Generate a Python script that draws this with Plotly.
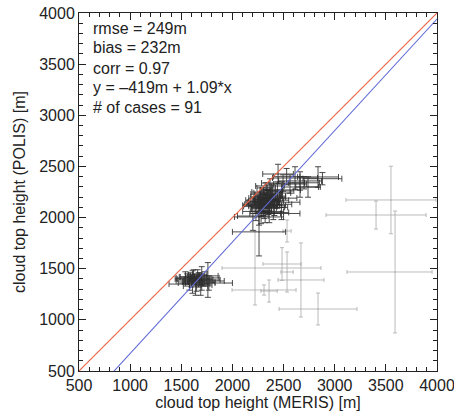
import plotly.graph_objects as go

# ---- data ----
# dark (used) cases: x = MERIS, y = POLIS, with errors
dark_x = [1560, 1600, 1620, 1650, 1680, 1700, 1720, 1760, 1640, 1580, 1690, 1730, 1660, 1610, 1770, 1540, 1700, 1630,
          1590, 1670,
          2300, 2320, 2340, 2280, 2360, 2310, 2350, 2290, 2330, 2370, 2260, 2400, 2420, 2380, 2310, 2350, 2270, 2340,
          2300, 2390, 2250, 2440, 2360, 2280, 2320, 2410, 2460, 2230, 2380, 2330, 2440, 2290, 2360, 2340, 2400,
          2320, 2270, 2350, 2300, 2370,
          2260, 2260, 2200, 2480, 2230,
          2446, 2612, 2837, 2661, 2495, 2661, 2739, 2485, 2367, 2563, 2700, 2530, 2880]
dark_y = [1400, 1380, 1420, 1360, 1400, 1430, 1380, 1390, 1330, 1350, 1340, 1410, 1440, 1370, 1360, 1410, 1370, 1400,
          1420, 1390,
          2150, 2180, 2120, 2100, 2160, 2200, 2220, 2170, 2140, 2190, 2130, 2170, 2210, 2130, 2090, 2100, 2190, 2250,
          2230, 2240, 2160, 2150, 2060, 2060, 2040, 2100, 2190, 2110, 2270, 2290, 2260, 2120, 2130, 2180, 2050,
          2160, 2140, 2200, 2110, 2230,
          2006, 1860, 2015, 2040, 2060,
          2426, 2387, 2397, 2358, 2338, 2299, 2299, 2270, 2309, 2328, 2340, 2400, 2380]
dark_ex = [120, 150, 130, 180, 100, 160, 200, 120, 120, 200, 110, 140, 90, 100, 230, 90, 130, 170,
           110, 140,
           150, 120, 180, 100, 140, 90, 130, 160, 110, 120, 140, 150, 100, 200, 120, 160, 110, 150,
           120, 180, 90, 220, 140, 100, 150, 130, 170, 120, 110, 90, 160, 190, 100, 130, 150,
           110, 130, 170, 140, 100,
           240, 260, 150, 180, 130,
           150, 220, 200, 210, 210, 180, 120, 180, 140, 160, 150, 130, 190]
dark_ey = [50, 60, 70, 80, 60, 90, 50, 170, 90, 60, 100, 60, 50, 110, 70, 60, 80, 50,
           40, 70,
           80, 60, 70, 90, 60, 70, 50, 60, 80, 70, 80, 60, 50, 90, 100, 70, 60, 70,
           60, 80, 50, 60, 110, 120, 90, 80, 60, 70, 60, 50, 90, 60, 60, 90, 70,
           60, 80, 70, 90, 60,
           80, 235, 140, 60, 90,
           95, 110, 100, 90, 80, 100, 100, 80, 70, 90, 60, 80, 60]

# grey (excluded) cases
grey_x = [3550, 3404, 3590, 2485, 2221, 2534, 2670, 2309, 2358, 2837, 2534]
grey_y = [2172, 2025, 1468, 1546, 1507, 1468, 1390, 1292, 1282, 1106, 1869]
grey_ex_plus = [440, 489, 362, 186, 645, 60, 225, 313, 80, 381, 40]
grey_ex_minus = [440, 489, 470, 186, 323, 60, 225, 313, 80, 381, 40]
grey_ey = [330, 137, 596, 160, 362, 196, 362, 50, 108, 156, 108]

# reference lines
line_x = [500, 4000]
fit_intercept = -419
fit_slope = 1.09

stats_lines = ["rmse = 249m", "bias = 232m", "corr = 0.97",
               "y = \u2013419m + 1.09*x", "# of cases = 91"]

FONT = "Liberation Sans, Arial, Helvetica, sans-serif"

fig = go.Figure()

fig.add_trace(go.Scatter(
    x=grey_x, y=grey_y, mode="markers",
    marker=dict(size=1, color="rgba(160,160,160,0.8)"),
    error_x=dict(type="data", symmetric=False, array=grey_ex_plus, arrayminus=grey_ex_minus,
                 color="rgba(170,170,170,0.8)", thickness=1, width=2),
    error_y=dict(type="data", array=grey_ey, color="rgba(170,170,170,0.8)", thickness=1, width=2),
    showlegend=False, hoverinfo="skip"))

fig.add_trace(go.Scatter(
    x=dark_x, y=dark_y, mode="markers",
    marker=dict(size=1, color="#3a3a3a"),
    error_x=dict(type="data", array=dark_ex, color="rgba(45,45,45,0.85)", thickness=1, width=3),
    error_y=dict(type="data", array=dark_ey, color="rgba(45,45,45,0.85)", thickness=1, width=3),
    showlegend=False, hoverinfo="skip"))

fig.add_trace(go.Scatter(
    x=line_x, y=line_x, mode="lines",
    line=dict(color="rgb(238,92,62)", width=1.1), showlegend=False, hoverinfo="skip"))

fit_y = [fit_intercept + fit_slope * v for v in line_x]
fig.add_trace(go.Scatter(
    x=line_x, y=fit_y, mode="lines",
    line=dict(color="rgb(98,108,215)", width=1.1), showlegend=False, hoverinfo="skip"))

# plot area: x 79..437, y 13..371 (358 px square)
line_py = [29, 48, 68, 88, 107]
for txt, py in zip(stats_lines, line_py):
    fig.add_annotation(text=txt, xref="paper", yref="paper",
                       x=(91 - 79) / 358, y=(371 - py) / 358,
                       xanchor="left", yanchor="middle", showarrow=False,
                       font=dict(family=FONT, size=16, color="#222"))

axis_common = dict(
    range=[500, 4000], dtick=500, tick0=500,
    showgrid=False, zeroline=False,
    showline=True, linecolor="#222", linewidth=1, mirror="ticks",
    ticks="inside", ticklen=7, tickwidth=1, tickcolor="#222",
    minor=dict(dtick=100, ticks="inside", ticklen=4, tickwidth=1, tickcolor="#222", showgrid=False),
    tickfont=dict(family=FONT, size=16, color="#222"),
    ticklabeloverflow="allow",
)

fig.update_layout(
    width=454, height=414,
    margin=dict(l=79, r=17, t=13, b=43, autoexpand=False),
    paper_bgcolor="white", plot_bgcolor="white",
    xaxis=dict(**axis_common,
               title=dict(text="cloud top height (MERIS) [m]", standoff=2,
                          font=dict(family=FONT, size=16, color="#222"))),
    yaxis=dict(**axis_common,
               title=dict(text="cloud top height (POLIS) [m]", standoff=9,
                          font=dict(family=FONT, size=16, color="#222"))),
)

fig.write_html("out.html", config={"displayModeBar": False},
               post_script="document.body.style.margin='0px';document.body.style.overflow='hidden';")
